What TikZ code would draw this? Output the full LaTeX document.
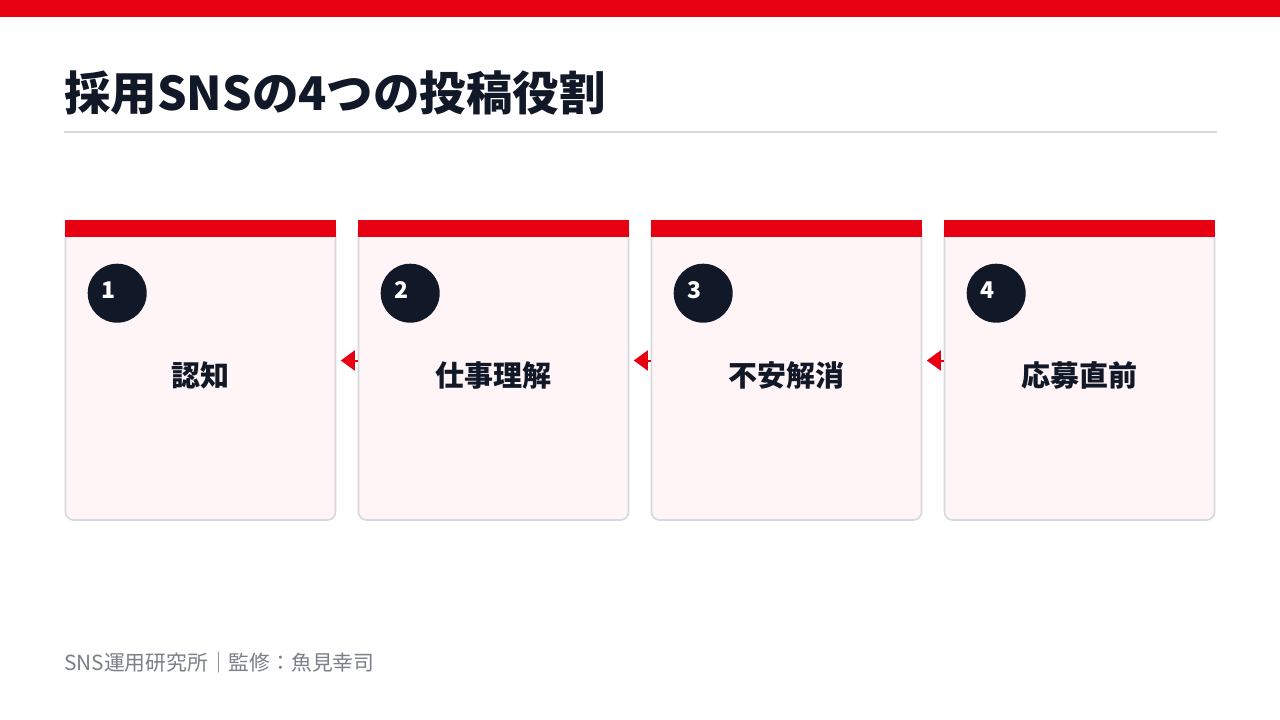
\documentclass[tikz,border=0pt]{standalone}
\usepackage{fontspec}
\usepackage{tikz}
\usetikzlibrary{calc,arrows.meta}
\newfontfamily\jpfont{Noto Sans CJK JP}
\definecolor{brandred}{HTML}{E60012}
\definecolor{inkdark}{HTML}{111827}
\definecolor{cardfill}{HTML}{FFF5F6}
\definecolor{cardline}{HTML}{D5D8DE}
\definecolor{footgray}{HTML}{7A7F88}
\tikzstyle{cardbox} = [draw=cardline, fill=cardfill, line width=1.6pt,
rectangle, rounded corners=8pt, minimum width=270pt, minimum height=299pt, inner sep=0pt]
\tikzstyle{cardband} = [fill=brandred, rectangle, minimum width=271.6pt, minimum height=17pt, inner sep=0pt]
\tikzstyle{numdot} = [fill=inkdark, circle, minimum size=59pt, inner sep=0pt]
\tikzstyle{numtext} = [text=white, font=\jpfont\bfseries\fontsize{23pt}{23pt}\selectfont, inner sep=0pt]
\tikzstyle{cardlabel} = [text=inkdark, font=\jpfont\bfseries\fontsize{29pt}{29pt}\selectfont, inner sep=0pt]
\tikzstyle{flowarrow} = [draw=brandred, line width=2pt, -{Stealth[length=14pt,width=20pt,inset=0pt]}]

\begin{document}
\begin{tikzpicture}[x=1pt,y=-1pt]
		\useasboundingbox [fill=white] (0,0) rectangle (1280,720);
		% top bar and title
		\fill [brandred] (0,0) rectangle (1280,17);
		\node [anchor=west, text=inkdark, inner sep=0pt,
		font=\jpfont\bfseries\fontsize{46.5pt}{46.5pt}\selectfont] (title) at (64,93) {採用SNSの4つの投稿役割};
		\coordinate (ruleL) at (64,132);
		\coordinate (ruleR) at (1217,132);
		\draw [draw=cardline, line width=2pt] (ruleL) -- (ruleR);
		% cards
		\foreach \i/\txt in {1/認知, 2/仕事理解, 3/不安解消, 4/応募直前}{
			\node [cardbox] (card\i) at ({200.5+(\i-1)*293},370.5) {};
			\node [cardband, anchor=north] (band\i) at ($(card\i.north)+(0,-0.8)$) {};
			\node [numdot] (dot\i) at ($(card\i.north west)+(52.5,73)$) {};
			\node [numtext] (num\i) at ($(dot\i.center)+(-9,-3)$) {\i};
			\node [cardlabel] (label\i) at ($(card\i.center)+(0,5)$) {\txt};
		}
		% arrows between cards
		\draw [flowarrow] ($(card2.west)+(0,-10)$) -- ($(card1.east)+(4.5,-10)$);
		\draw [flowarrow] ($(card3.west)+(0,-10)$) -- ($(card2.east)+(4.5,-10)$);
		\draw [flowarrow] ($(card4.west)+(0,-10)$) -- ($(card3.east)+(4.5,-10)$);
		% footer
		\node [anchor=west, text=footgray, inner sep=0pt,
		font=\jpfont\fontsize{20.8pt}{20.8pt}\selectfont] (footer) at (64,663) {SNS運用研究所｜監修：魚見幸司};
\end{tikzpicture}
\end{document}
